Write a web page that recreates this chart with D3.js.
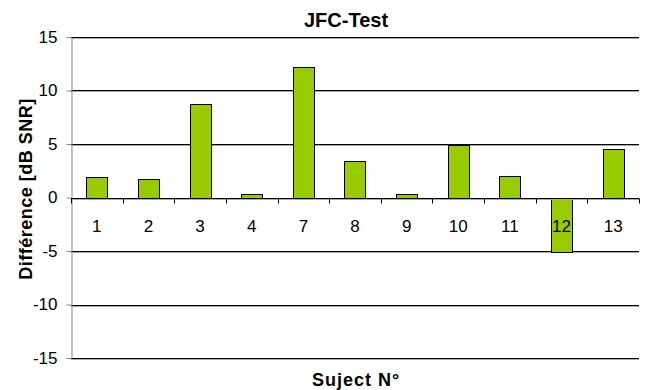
<!DOCTYPE html>
<html><head><meta charset="utf-8">
<script src="https://cdn.jsdelivr.net/npm/d3@7"></script>
<style>body{margin:0;background:#fff}svg{display:block;font-family:"Liberation Sans",Arial,sans-serif}</style>
</head><body>
<svg id="c" width="646" height="390"></svg>
<script>
const categories = ["1","2","3","4","7","8","9","10","11","12","13"];
const values = [1.9, 1.7, 8.7, 0.3, 12.2, 3.4, 0.3, 4.9, 2.0, -5.1, 4.5];
const yTicks = [-15,-10,-5,0,5,10,15];
const title = "JFC-Test";
const xTitle = "Suject N°";
const yTitle = "Différence [dB SNR]";

(function () {
const svg = d3.select("#c");
const mLeft = 71, mRight = 639, mTop = 37, mBottom = 358;
const x = d3.scaleBand().domain(categories).range([mLeft, mRight]).paddingInner(0.59).paddingOuter(0.295);
const y = d3.scaleLinear().domain([-15, 15]).range([mBottom, mTop]);
const FF = "Liberation Sans, Arial, sans-serif";

// gridlines
const g = svg.append("g");
yTicks.filter(t => t !== 0).forEach(t => {
  g.append("line").attr("x1", mLeft).attr("x2", mRight).attr("y1", Math.round(y(t))+1.5).attr("y2", Math.round(y(t))+1.5).attr("stroke", "#aaa");
  g.append("line").attr("x1", mLeft).attr("x2", mRight).attr("y1", Math.round(y(t))+0.5).attr("y2", Math.round(y(t))+0.5).attr("stroke", "#000");
});

// bars
svg.append("g").selectAll("rect").data(values).join("rect")
  .attr("x", (d, i) => Math.round(x(categories[i])) + 0.5)
  .attr("width", Math.round(x.bandwidth()))
  .attr("y", d => Math.round(y(Math.max(0, d))) + 0.5)
  .attr("height", d => Math.abs(Math.round(y(d)) - Math.round(y(0))))
  .attr("fill", "#99cc00").attr("stroke", "#000").attr("stroke-width", 1);

// left axis
const ya = svg.append("g").attr("transform", `translate(${mLeft + 0.5},0)`)
  .call(d3.axisLeft(y).tickValues(yTicks).tickSize(5).tickSizeOuter(0).tickFormat(d3.format("d")));
ya.select(".domain").attr("stroke", "#888");
ya.selectAll(".tick line").attr("stroke", "#888");
ya.selectAll(".tick text").attr("font-size", 17).attr("font-family", FF).attr("fill", "#000").attr("x", -14).text(d => String(d).replace("\u2212", "-"));

// x axis at zero
const y0 = Math.round(y(0)) + 0.5;
const step = x.step();
const boundaries = d3.range(categories.length + 1).map(i => mLeft + i * step);
svg.append("line").attr("x1", mLeft).attr("x2", mRight).attr("y1", y0).attr("y2", y0).attr("stroke", "#000");
svg.append("line").attr("x1", mLeft).attr("x2", mRight).attr("y1", y0+1).attr("y2", y0+1).attr("stroke", "#aaa");
svg.append("g").selectAll("line").data(boundaries).join("line")
  .attr("x1", d => Math.round(d) + 0.5).attr("x2", d => Math.round(d) + 0.5)
  .attr("y1", y0).attr("y2", y0 + 5).attr("stroke", "#000");
svg.append("g").selectAll("text").data(categories).join("text")
  .attr("x", d => x(d) + x.bandwidth() / 2).attr("y", y0 + 33)
  .attr("text-anchor", "middle").attr("font-size", 17).text(d => d);

// titles
svg.append("text").attr("x", 346).attr("y", 27).attr("text-anchor", "middle")
  .attr("font-size", 20).attr("font-weight", "bold").text(title);
svg.append("text").attr("x", 356).attr("y", 386).attr("text-anchor", "middle")
  .attr("font-size", 18).attr("font-weight", "bold").attr("letter-spacing", 1).text(xTitle);
svg.append("text").attr("transform", "translate(32,189) rotate(-90)").attr("text-anchor", "middle")
  .attr("font-size", 18).attr("font-weight", "bold").attr("letter-spacing", 0.5).text(yTitle);
})();
</script>
</body></html>
